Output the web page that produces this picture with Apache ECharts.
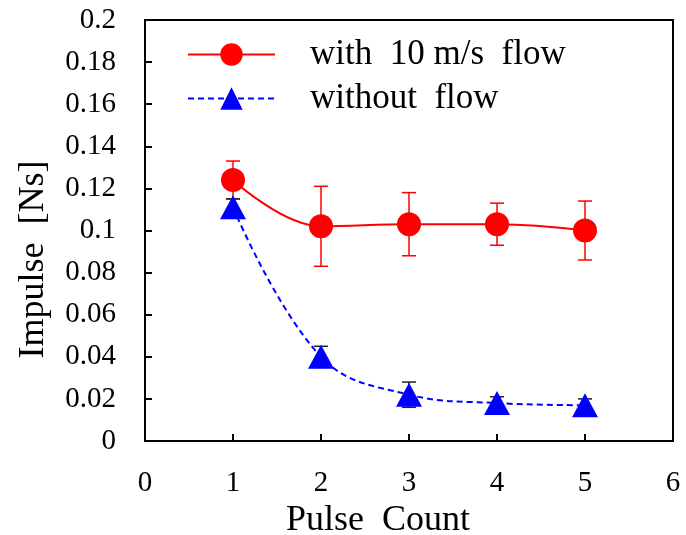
<!DOCTYPE html>
<html>
<head>
<meta charset="utf-8">
<script src="https://cdn.jsdelivr.net/npm/echarts@6/dist/echarts.min.js"></script>
<style>
  html, body { margin: 0; padding: 0; background: #fff; }
  #chart { width: 686px; height: 535px; }
</style>
</head>
<body>
<div id="chart"></div>
<script>
// data
const pulseCount = [1, 2, 3, 4, 5];
const withFlow = [0.124, 0.102, 0.103, 0.103, 0.100];
const withFlowErr = [0.009, 0.019, 0.015, 0.010, 0.014];
const withoutFlow = [0.111, 0.040, 0.022, 0.018, 0.017];
const withoutFlowErr = [0.004, 0.005, 0.006, 0.003, 0.003];

const font = 'Liberation Serif';

function toPairs(xs, ys) {
  return xs.map((x, i) => [x, ys[i]]);
}

function errRows(xs, ys, es) {
  return xs.map((x, i) => [x, ys[i] - es[i], ys[i] + es[i]]);
}

// 误差线
function errorBars(rows, color, width) {
  return {
    type: 'custom',
    silent: true,
    z: 1,
    data: rows,
    renderItem: function (params, api) {
      const top = api.coord([api.value(0), api.value(2)]);
      const bot = api.coord([api.value(0), api.value(1)]);
      const w = 7;
      const style = { stroke: color, lineWidth: width, fill: null };
      return {
        type: 'group',
        children: [
          { type: 'line', shape: { x1: top[0], y1: top[1], x2: bot[0], y2: bot[1] }, style: style },
          { type: 'line', shape: { x1: top[0] - w, y1: top[1], x2: top[0] + w, y2: top[1] }, style: style },
          { type: 'line', shape: { x1: bot[0] - w, y1: bot[1], x2: bot[0] + w, y2: bot[1] }, style: style }
        ]
      };
    }
  };
}

const chart = echarts.init(document.getElementById('chart'), null, { renderer: 'canvas' });

const option = {
  animation: false,
  backgroundColor: '#fff',
  grid: {
    left: 145, right: 13, top: 20, bottom: 94,
    outerBoundsMode: 'none', containLabel: false,
    show: true, borderColor: '#000', borderWidth: 2, backgroundColor: 'transparent'
  },
  legend: {
    left: 182, top: 32, orient: 'vertical',
    itemWidth: 87, itemHeight: 28, itemGap: 9,
    textStyle: { fontFamily: font, fontSize: 35, color: '#000', padding: [0, 0, 0, 30] },
    data: ['with  10 m/s  flow', 'without  flow']
  },
  xAxis: {
    type: 'value', min: 0, max: 6, interval: 1,
    name: 'Pulse  Count', nameLocation: 'middle', nameGap: 57,
    nameTextStyle: { fontFamily: font, fontSize: 36, color: '#000', padding: [0, 62, 0, 0] },
    axisLine: { lineStyle: { color: '#000', width: 2 } },
    axisTick: { inside: true, length: 7, lineStyle: { color: '#000', width: 2 } },
    axisLabel: { fontFamily: font, fontSize: 29, color: '#000', margin: 28 },
    splitLine: { show: false }
  },
  yAxis: {
    type: 'value', min: 0, max: 0.2, interval: 0.02,
    name: 'Impulse  [Ns]', nameLocation: 'middle', nameGap: 93,
    nameTextStyle: { fontFamily: font, fontSize: 36, color: '#000', padding: [0, 58, 0, 0] },
    axisLine: { lineStyle: { color: '#000', width: 2 } },
    axisTick: { inside: true, length: 7, lineStyle: { color: '#000', width: 2 } },
    axisLabel: { fontFamily: font, fontSize: 29, color: '#000', margin: 29 },
    splitLine: { show: false }
  },
  series: [
    errorBars(errRows(pulseCount, withFlow, withFlowErr), '#ff0000', 1.5),
    errorBars(errRows(pulseCount, withoutFlow, withoutFlowErr), '#222', 1.5),
    {
      name: 'with  10 m/s  flow',
      type: 'line',
      smooth: 0.4,
      z: 3,
      data: toPairs(pulseCount, withFlow),
      symbol: 'circle', symbolSize: 24,
      lineStyle: { color: '#ff0000', width: 2 },
      itemStyle: { color: '#ff0000' }
    },
    {
      name: 'without  flow',
      type: 'line',
      smooth: 0.4,
      z: 3,
      data: toPairs(pulseCount, withoutFlow),
      symbol: 'triangle', symbolSize: [26, 24],
      lineStyle: { color: '#0000ff', width: 2, type: [6, 4] },
      itemStyle: { color: '#0000ff' }
    }
  ]
};

chart.setOption(option);
</script>
</body>
</html>
